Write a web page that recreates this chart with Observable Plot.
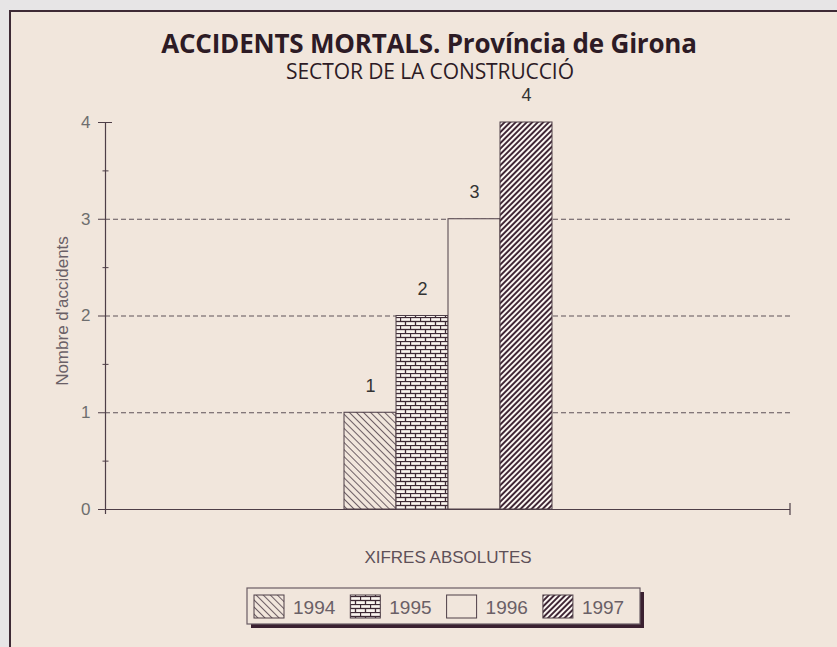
<!DOCTYPE html>
<html>
<head>
<meta charset="utf-8">
<script src="https://cdn.jsdelivr.net/npm/d3@7"></script>
<script src="https://cdn.jsdelivr.net/npm/@observablehq/plot@0.6"></script>
<style>
  html, body { margin: 0; padding: 0; }
  body { width: 837px; height: 647px; overflow: hidden; position: relative; background: #e7e5e6; font-family: "Liberation Sans", Arial, sans-serif; }
  #panel { position: absolute; left: 9px; top: 10px; width: 900px; height: 700px; border: 2px solid #3e2a35; background: #f1e6dc; box-sizing: border-box; }
  #title { position: absolute; left: 0; width: 858px; top: 29px; text-align: center; font-family: "Open Sans", sans-serif; font-weight: 700; font-size: 26px; color: #2d1b25; line-height: 28px; letter-spacing: -0.2px; }
  #subtitle { position: absolute; left: 0; width: 860px; top: 60px; text-align: center; font-family: "Open Sans", sans-serif; font-size: 21px; color: #2d1b25; line-height: 22px; letter-spacing: -0.1px; }
  #chart { position: absolute; left: 0; top: 85px; }
  #legend { position: absolute; left: 0; top: 580px; }
</style>
</head>
<body>
<div id="panel"></div>
<div id="title">ACCIDENTS MORTALS. Província de Girona</div>
<div id="subtitle">SECTOR DE LA CONSTRUCCIÓ</div>
<div id="chart"></div>
<svg id="legend" width="837" height="60"></svg>
<script>
// ---- data ----
const years = ["1994", "1995", "1996", "1997"];
const values = [1, 2, 3, 4];
const yTicks = [0, 1, 2, 3, 4];
const minorTicks = [0.5, 1.5, 2.5, 3.5];
const gridValues = [1, 2, 3];
const yLabel = "Nombre d'accidents";
const xLabel = "XIFRES ABSOLUTES";

const data = years.map((year, i) => ({year, value: values[i]}));

// ---- styling ----
const panelBg = "#f1e6dc";
const axisColor = "#4e3e47";
const fills = ["url(#p1994)", "url(#p1995)", panelBg, "url(#p1997)"];

function endTick(index, scales, channels, dims) {
  const ns = "http://www.w3.org/2000/svg";
  const x = dims.width - dims.marginRight;
  const y = scales.y(0);
  const line = document.createElementNS(ns, "line");
  line.setAttribute("x1", x); line.setAttribute("x2", x);
  line.setAttribute("y1", y - 6); line.setAttribute("y2", y + 6);
  line.setAttribute("stroke", axisColor);
  line.setAttribute("stroke-width", 1.2);
  return line;
}

const chart = Plot.plot({
  width: 837,
  height: 490,
  marginLeft: 105,
  marginRight: 47,
  marginTop: 37,
  marginBottom: 66,
  style: {background: "transparent", fontFamily: "'Liberation Sans', Arial, sans-serif", overflow: "visible"},
  x: {domain: years, paddingInner: 0, paddingOuter: 4.556, align: 0.5, axis: null},
  y: {domain: [0, 4], axis: null},
  color: {domain: years, range: fills},
  marks: [
    Plot.ruleY(gridValues, {stroke: "#5e5258", strokeWidth: 1, strokeDasharray: "5,3"}),
    Plot.barY(data, {x: "year", y: "value", fill: "year", stroke: axisColor, strokeWidth: 1}),
    Plot.frame({anchor: "left", stroke: axisColor, strokeWidth: 1.2, insetBottom: -4}),
    Plot.ruleY([0], {stroke: axisColor, strokeWidth: 1.2}),
    endTick,
    Plot.axisY(yTicks, {tickSize: 7, tickPadding: 8, fontSize: 17, stroke: axisColor, fill: "#6e6e6e", label: null, tickFormat: d => String(d)}),
    Plot.axisY(minorTicks, {tickSize: 6, dx: 3.5, stroke: axisColor, label: null, tickFormat: () => ""}),
    Plot.axisY([4], {tickSize: 7, dx: 7, stroke: axisColor, label: null, tickFormat: () => ""}),
    Plot.text(data, {x: "year", y: "value", text: d => String(d.value), dy: -27, fontSize: 18, fill: "#333"}),
    Plot.text([xLabel], {frameAnchor: "bottom", dy: 53, fontSize: 17, fill: "#5e5058"}),
    Plot.text([yLabel], {frameAnchor: "left", textAnchor: "middle", rotate: -90, dx: -43, dy: -5, fontSize: 17, fill: "#6a6066"})
  ]
});

// pattern definitions
function addPatterns(svgSel) {
  const defs = svgSel.insert("defs", ":first-child");
  const p94 = defs.append("pattern").attr("id", "p1994").attr("patternUnits", "userSpaceOnUse")
    .attr("width", 5).attr("height", 5).attr("patternTransform", "rotate(-45)");
  p94.append("rect").attr("width", 5).attr("height", 5).attr("fill", panelBg);
  p94.append("line").attr("x1", 0.5).attr("x2", 0.5).attr("y1", 0).attr("y2", 5).attr("stroke", "#5e5058").attr("stroke-width", 0.9);

  const p95 = defs.append("pattern").attr("id", "p1995").attr("patternUnits", "userSpaceOnUse")
    .attr("width", 10).attr("height", 8);
  p95.append("rect").attr("width", 10).attr("height", 8).attr("fill", "#faf5ef");
  p95.append("line").attr("x1", 0).attr("x2", 10).attr("y1", 0.5).attr("y2", 0.5).attr("stroke", "#3e2a35").attr("stroke-width", 1.3);
  p95.append("line").attr("x1", 0).attr("x2", 10).attr("y1", 4.5).attr("y2", 4.5).attr("stroke", "#3e2a35").attr("stroke-width", 1.3);
  p95.append("line").attr("x1", 0.5).attr("x2", 0.5).attr("y1", 0).attr("y2", 4.5).attr("stroke", "#3e2a35").attr("stroke-width", 1.3);
  p95.append("line").attr("x1", 5.5).attr("x2", 5.5).attr("y1", 4.5).attr("y2", 8).attr("stroke", "#3e2a35").attr("stroke-width", 1.3);

  const p97 = defs.append("pattern").attr("id", "p1997").attr("patternUnits", "userSpaceOnUse")
    .attr("width", 3.9).attr("height", 4).attr("patternTransform", "rotate(45)");
  p97.append("rect").attr("width", 3.9).attr("height", 4).attr("fill", "#fbf7f2");
  p97.append("line").attr("x1", 1).attr("x2", 1).attr("y1", 0).attr("y2", 4).attr("stroke", "#3a2030").attr("stroke-width", 1.9);
}
addPatterns(d3.select(chart));
document.getElementById("chart").appendChild(chart);

// ---- legend ----
const leg = d3.select("#legend");
const boxX = 247, boxY = 8, boxW = 393, boxH = 36;
leg.append("rect").attr("x", boxX + 4).attr("y", boxY + 4).attr("width", boxW).attr("height", boxH).attr("fill", "#3a2030");
leg.append("rect").attr("x", boxX).attr("y", boxY).attr("width", boxW).attr("height", boxH)
  .attr("fill", panelBg).attr("stroke", "#6a5c64").attr("stroke-width", 1.2);
const step = 96.3;
years.forEach((yr, i) => {
  const sx = boxX + 7 + i * step;
  leg.append("rect").attr("x", sx).attr("y", boxY + 7).attr("width", 30).attr("height", 23)
    .attr("fill", fills[i]).attr("stroke", "#4e3e47").attr("stroke-width", 1);
  leg.append("text").attr("x", sx + 39).attr("y", boxY + 26).text(yr)
    .attr("font-family", "'Liberation Sans', Arial, sans-serif").attr("font-size", 19).attr("fill", "#6a6066");
});
</script>
</body>
</html>
